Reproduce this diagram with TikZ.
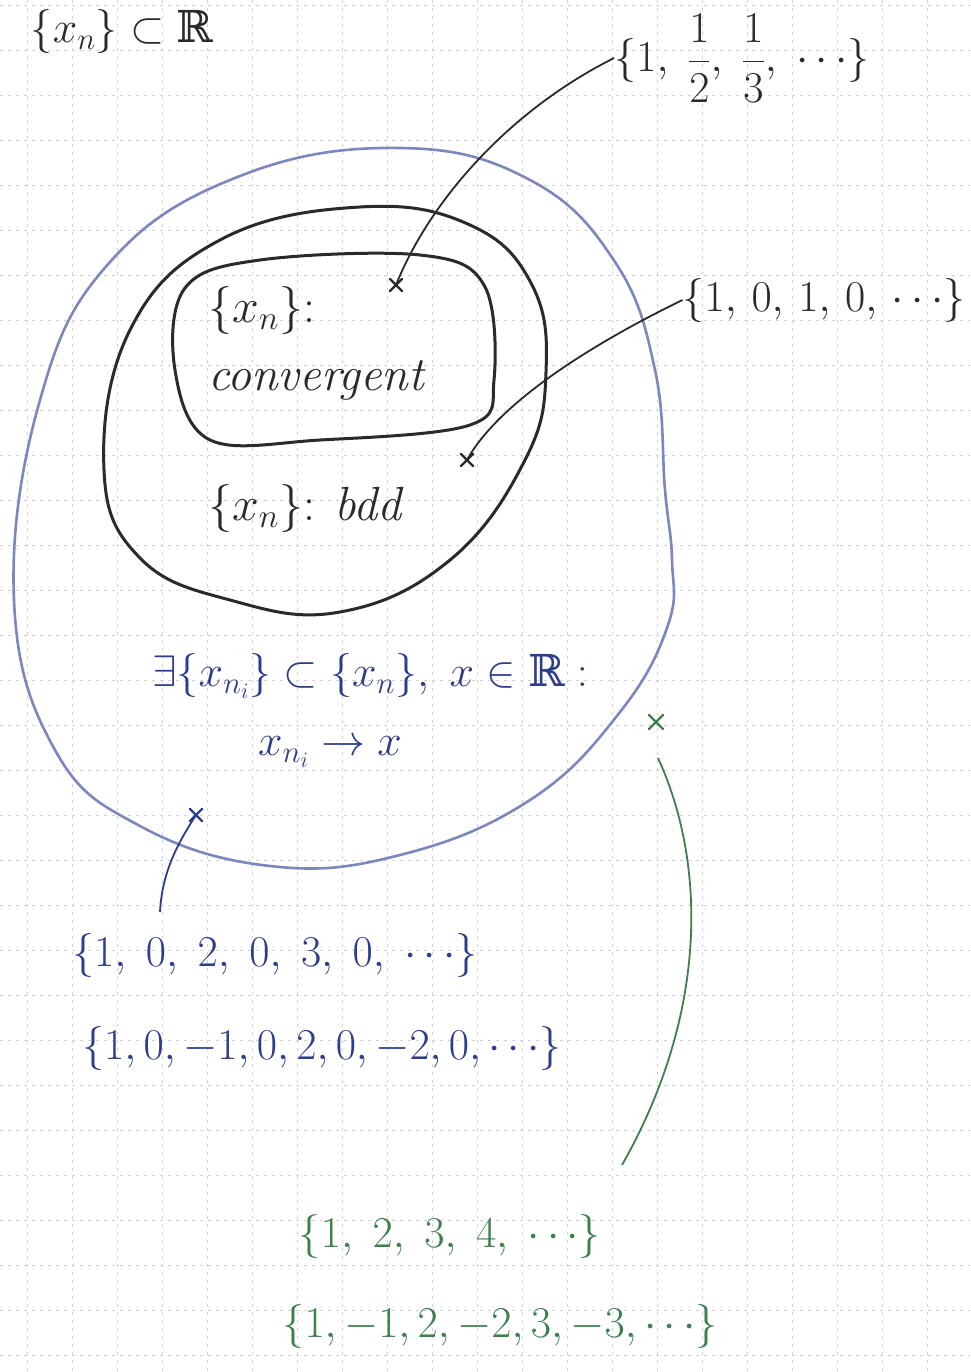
\RequirePackage{fix-cm}
\documentclass[tikz,border=0pt]{standalone}
\usepackage{fontspec}
\newfontfamily\dvs{DejaVu Serif}
\newcommand{\RR}{\mbox{\dvs ℝ}}
\usetikzlibrary{calc}
\definecolor{gridc}{HTML}{D2D2D2}
\definecolor{penblue}{HTML}{7C87BF}
\definecolor{inkblue}{HTML}{2E3C8C}
\definecolor{inkgreen}{HTML}{3E7F4E}
\definecolor{inkblack}{HTML}{2A2A2A}
\tikzset{
  gridline/.style={gridc, dash pattern=on 3pt off 5pt, line width=0.8pt},
  outerset/.style={penblue, line width=2.6pt},
  blackset/.style={inkblack, line width=3pt},
  lbl/.style={inner sep=0pt, font=\fontsize{44}{50}\selectfont},
  biglbl/.style={inner sep=0pt, font=\fontsize{48}{54}\selectfont},
  conn/.style={line width=1.8pt},
  xmk/.style={line width=2.2pt, line cap=round}
}
\newcommand{\xmk}[3]{\draw[xmk,#3] ($(#1)+(-#2,-#2)$) -- ($(#1)+(#2,#2)$) ($(#1)+(-#2,#2)$) -- ($(#1)+(#2,-#2)$);}
\newcommand{\cm}{,\;}
\newcommand{\cs}{,\,}
\begin{document}
\begin{tikzpicture}[x=1pt,y=-1pt]
\useasboundingbox (0,0) rectangle (970,1372);
\fill[white] (0,0) rectangle (970,1372);
% grid
\foreach \gx in {27,72,...,970} \draw[gridline] (\gx,0) -- (\gx,1372);
\foreach \gy in {5,50,...,1372} \draw[gridline] (0,\gy) -- (970,\gy);

% sets
\draw[outerset] plot[smooth cycle, tension=0.7] coordinates {(14,600) (40,400) (110,262) (240,176) (400,148) (530,180) (615,262) (655,370) (665,490) (672,560) (668,625) (620,712) (530,800) (400,855) (270,866) (140,826) (55,750)};
\draw[blackset] plot[smooth cycle, tension=0.7] coordinates {(104,470) (130,330) (220,240) (360,207) (470,225) (532,285) (546,372) (525,460) (450,560) (340,612) (230,600) (140,558)};
\draw[blackset] plot[smooth cycle, tension=0.6] coordinates {(175,370) (185,288) (260,260) (420,255) (484,285) (494,380) (470,425) (320,440) (210,440)};

% labels
\node[lbl, inkblack] (top) at (122,32) {$\{x_n\}\subset\RR$};
\node[lbl, inkblack] (harm) at (742,58) {$\displaystyle\{1\cm\frac{1}{2}\cm\frac{1}{3}\cm\cdots\}$};
\node[lbl, inkblack] (alt) at (824,300) {$\{1\cs0\cs1\cs0\cs\cdots\}$};
\node[biglbl, inkblack, anchor=west] (conv1) at (208,310) {$\{x_n\}$:};
\node[biglbl, inkblack, anchor=west] (conv2) at (208,380) {\itshape convergent};
\node[biglbl, inkblack, anchor=west] (bdd) at (208,508) {$\{x_n\}$: \itshape bdd};
\node[lbl, inkblue] (bw1) at (370,676) {$\exists\{x_{n_i}\}\subset\{x_n\},\ x\in\RR:$};
\node[lbl, inkblue] (bw2) at (330,752) {$x_{n_i}\to x$};
\node[lbl, inkblue] (ub1) at (275,955) {$\{1\cm0\cm2\cm0\cm3\cm0\cm\cdots\}$};
\node[lbl, inkblue] (ub2) at (322,1048) {$\{1,0,-1,0,2,0,-2,0,\cdots\}$};
\node[lbl, inkgreen] (nb1) at (450,1236) {$\{1\cm2\cm3\cm4\cm\cdots\}$};
\node[lbl, inkgreen] (nb2) at (500,1326) {$\{1,-1,2,-2,3,-3,\cdots\}$};

% points
\coordinate (pc) at (396,285);
\coordinate (pb) at (467,460);
\coordinate (pu) at (196,815);
\coordinate (pn) at (656,722);
\xmk{pc}{6}{inkblack}
\xmk{pb}{6}{inkblack}
\xmk{pu}{6}{inkblue}
\xmk{pn}{7}{inkgreen}

% connectors
\draw[conn, inkblack] (harm.west) .. controls (510,110) and (430,200) .. (pc);
\draw[conn, inkblack] (alt.west) .. controls (600,340) and (500,400) .. (pb);
\coordinate (us) at (160,912);
\draw[conn, inkblue] (us) .. controls (162,870) and (180,840) .. (pu);
\coordinate (gs) at (658,758);
\coordinate (ge) at (622,1165);
\draw[conn, inkgreen] (gs) .. controls (705,860) and (710,1010) .. (ge);
\end{tikzpicture}
\end{document}
